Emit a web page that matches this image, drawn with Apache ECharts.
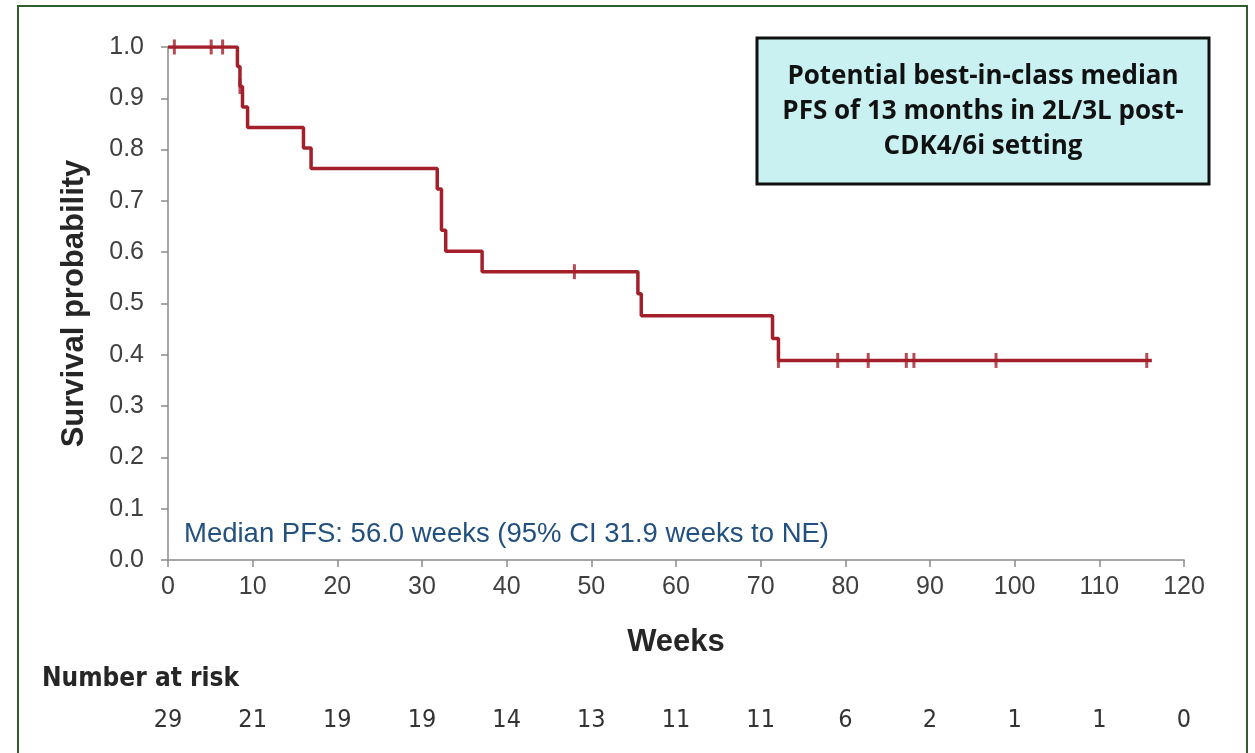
<!DOCTYPE html>
<html>
<head>
<meta charset="utf-8">
<script src="https://cdn.jsdelivr.net/npm/echarts@6/dist/echarts.min.js"></script>
<style>
  html, body { margin: 0; padding: 0; background: #ffffff; }
  #chart { width: 1255px; height: 753px; }
</style>
</head>
<body>
<div id="chart"></div>
<script>
// Kaplan-Meier progression-free survival (weeks)
const stepWeeks    = [0, 8.2, 8.5, 8.8, 9.4, 16.0, 16.9, 31.8, 32.3, 32.8, 37.1, 55.5, 55.9, 71.4, 72.1, 116.2];
const stepSurvival = [1.0, 0.962, 0.923, 0.883, 0.843, 0.803, 0.763, 0.723, 0.643, 0.602, 0.562, 0.519, 0.476, 0.432, 0.389, 0.389];

// Censored observations
const censorWeeks    = [0.75, 5.1, 6.45, 8.5, 48.0, 72.1, 79.1, 82.7, 87.2, 88.1, 97.8, 115.6];
const censorSurvival = [1.0, 1.0, 1.0, 0.923, 0.562, 0.389, 0.389, 0.389, 0.389, 0.389, 0.389, 0.389];

// Number at risk table
const riskWeeks  = [0, 10, 20, 30, 40, 50, 60, 70, 80, 90, 100, 110, 120];
const riskCounts = [29, 21, 19, 19, 14, 13, 11, 11, 6, 2, 1, 1, 0];

const calloutLines = ['Potential best-in-class median', 'PFS of 13 months in 2L/3L post-', 'CDK4/6i setting'];
const medianNote = 'Median PFS: 56.0 weeks (95% CI 31.9 weeks to NE)';

const curveColor = '#a31f2a';
const axisColor = '#8a8a8a';
const labelColor = '#404040';
const sansFont = '"Liberation Sans", Arial, sans-serif';
const narrowFont = '"Liberation Sans Narrow", "DejaVu Sans Condensed", "Liberation Sans", sans-serif';

const chart = echarts.init(document.getElementById('chart'), null, { renderer: 'canvas' });

const option = {
  animation: false,
  backgroundColor: '#ffffff',
  grid: { left: 168, right: 71, top: 47, bottom: 193, containLabel: false },
  xAxis: {
    type: 'value',
    min: 0, max: 120, interval: 10,
    name: 'Weeks',
    nameLocation: 'middle',
    nameGap: 67,
    nameTextStyle: { fontFamily: sansFont, fontWeight: 'bold', fontSize: 31, color: '#262626' },
    axisLine: { onZero: false, lineStyle: { color: axisColor, width: 1.5 } },
    axisTick: { show: true, length: 7, lineStyle: { color: axisColor, width: 1.5 } },
    axisLabel: { fontFamily: sansFont, fontSize: 25, color: labelColor, margin: 15 },
    splitLine: { show: false }
  },
  yAxis: {
    type: 'value',
    min: 0, max: 1, interval: 0.1,
    name: 'Survival probability',
    nameLocation: 'middle',
    nameGap: 78,
    nameRotate: 90,
    nameTextStyle: { fontFamily: sansFont, fontWeight: 'bold', fontSize: 31, color: '#262626' },
    axisLine: { show: true, lineStyle: { color: axisColor, width: 1.5 } },
    axisTick: { show: true, length: 7, lineStyle: { color: axisColor, width: 1.5 } },
    axisLabel: {
      fontFamily: sansFont, fontSize: 25, color: labelColor, margin: 24,
      formatter: v => v.toFixed(1)
    },
    splitLine: { show: false }
  },
  series: [
    {
      type: 'line',
      step: 'end',
      showSymbol: false,
      lineStyle: { color: curveColor, width: 3.5 },
      data: stepWeeks.map((w, i) => [w, stepSurvival[i]]),
      z: 3
    },
    {
      type: 'scatter',
      symbol: 'rect',
      symbolSize: [3, 15],
      itemStyle: { color: curveColor },
      data: censorWeeks.map((w, i) => [w, censorSurvival[i]]),
      z: 4
    }
  ]
};

chart.setOption(option);

// Annotations: frame, callout box, median note and risk table
const graphics = [];

graphics.push({
  type: 'rect',
  shape: { x: 18, y: 6, width: 1229, height: 760 },
  style: { fill: 'none', stroke: '#2f5f2f', lineWidth: 2 },
  silent: true
});

graphics.push({
  type: 'rect',
  shape: { x: 757, y: 38, width: 452, height: 146 },
  style: { fill: '#c9f1f1', stroke: '#111111', lineWidth: 3 },
  z: 10
});
calloutLines.forEach((line, i) => {
  graphics.push({
    type: 'text',
    x: 983, y: 77 + i * 35,
    style: {
      text: line,
      font: 'bold 26px "Open Sans", Lato, sans-serif',
      fill: '#111111',
      align: 'center',
      verticalAlign: 'middle'
    },
    z: 11
  });
});

graphics.push({
  type: 'text',
  x: 184, y: 534,
  style: {
    text: medianNote,
    font: '27.5px ' + sansFont,
    fill: '#22507f',
    align: 'left',
    verticalAlign: 'middle'
  },
  z: 5
});

graphics.push({
  type: 'text',
  x: 42, y: 679,
  style: {
    text: 'Number at risk',
    font: 'bold 26px ' + narrowFont,
    fill: '#262626',
    align: 'left',
    verticalAlign: 'middle'
  }
});

riskWeeks.forEach((w, i) => {
  const px = chart.convertToPixel({ xAxisIndex: 0 }, w);
  graphics.push({
    type: 'text',
    x: px, y: 720,
    style: {
      text: String(riskCounts[i]),
      font: '25px ' + narrowFont,
      fill: '#333333',
      align: 'center',
      verticalAlign: 'middle'
    }
  });
});

chart.setOption({ graphic: graphics });
</script>
</body>
</html>
